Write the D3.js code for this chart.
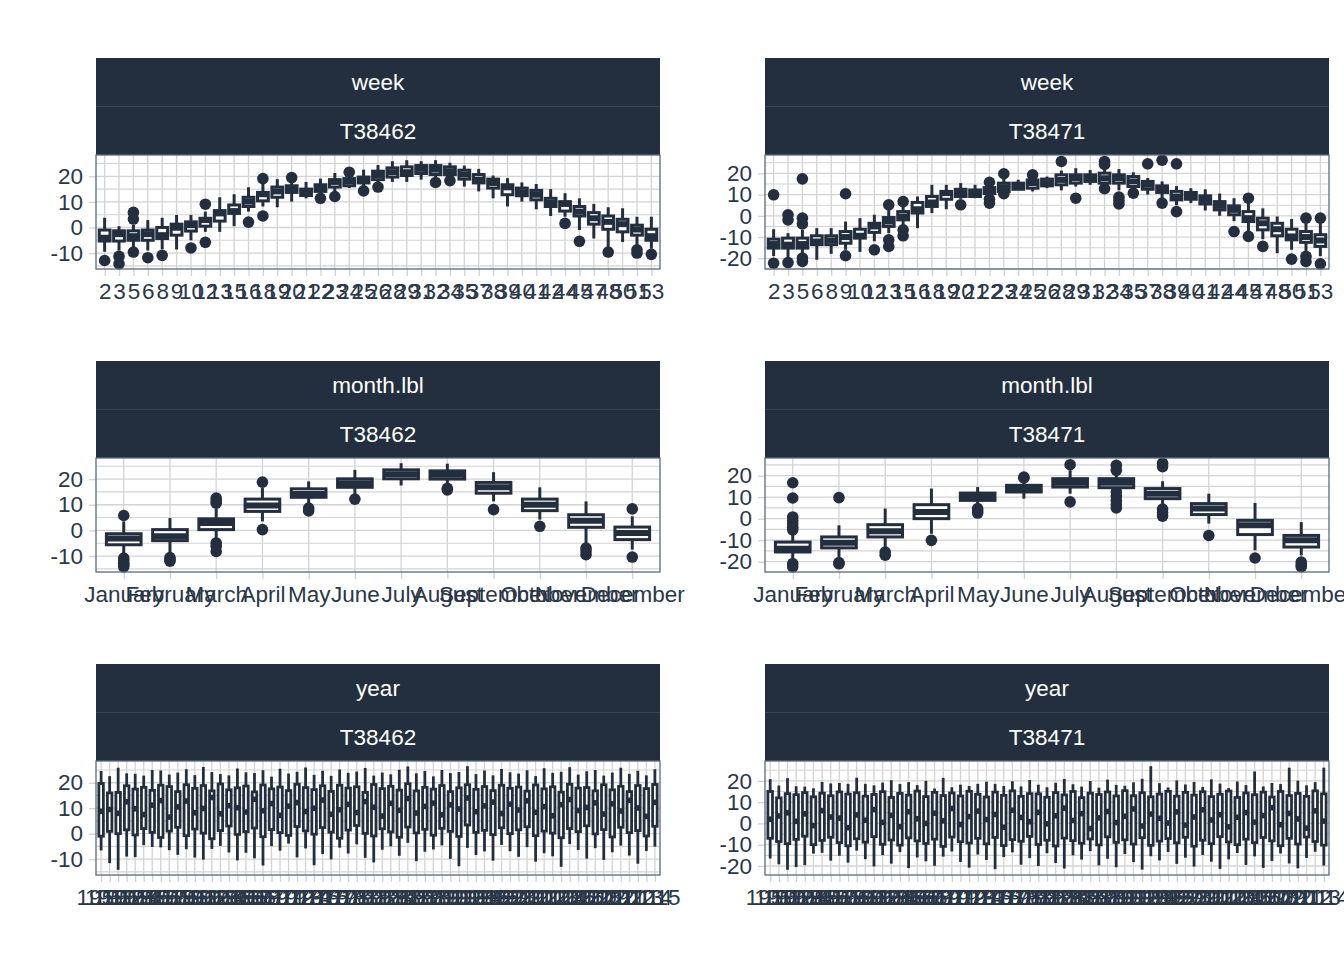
<!DOCTYPE html>
<html><head><meta charset="utf-8">
<script src="https://cdn.jsdelivr.net/npm/d3@7"></script>
<style>body{margin:0;background:#fff} svg{display:block} text{font-family:"Liberation Sans",Arial,Helvetica,sans-serif}</style>
</head><body><svg id="c" width="1344" height="960"></svg>
<script>
// ---------- categories ----------
const weekLabels = ["2","3","5","6","8","9","10","12","13","15","16","18","19","20","21","22","23","24","25","26","28","29","31","32","34","35","37","38","39","40","41","42","44","45","47","48","50","51","53"];
const monthLabels = ["January","February","March","April","May","June","July","August","September","October","November","December"];
const yearLabels62 = d3.range(1950, 2016).map(String);
const yearLabels71 = d3.range(1950, 2015).map(String);
const stations = ["T38462", "T38471"];

// ---------- week, T38462 ----------
const wk62_lo  = [-9.5,-9,-7.6,-9,-8.5,-8.6,-5,-1.7,-1.7,0.5,6.2,8.2,7.9,10.1,11.4,12.8,13.5,15.4,15.8,17,17.8,17.8,18.7,19.5,19.5,16,14.1,11.4,8.2,10.1,7.1,4.5,4.2,-1,-4.3,-8,-5.7,-7,-8.3];
const wk62_q1  = [-5.3,-5.3,-5,-5,-4.3,-3,-1.4,0.5,2.5,5.5,8.2,10.4,11.8,13.7,12.5,14.1,15.8,16.3,17.4,18.7,19.7,20.3,21.1,20.7,20.7,18.9,17.4,15.4,12.8,12.4,10.8,8.2,6.4,4.5,1.3,-0.7,-1.7,-3,-5];
const wk62_med = [-4,-2.6,-3.4,-2.6,-3,-0.1,0.9,2.9,5.5,6.4,10.1,13,14.1,15.1,13.7,15.1,17.8,18,18.4,20.5,21.6,21.6,22.9,22.6,22,20.7,18.7,17.4,15.7,13.8,12.8,9.7,9.2,6.2,3.6,2.2,1.3,-0.8,-3.4];
const wk62_q3  = [-1,-1.3,-1.3,-1,0,1.3,2.2,3.6,6.6,8.8,11.8,13.7,15.8,16.3,15,16.7,18.7,19.1,19.7,22,23.3,23.7,24.2,24.2,23.7,22.4,20.7,18.9,16.7,15.4,14.5,11.4,10.1,8.2,5.8,4.5,3.2,0.9,-0.7];
const wk62_hi  = [3.8,0.5,1,2.9,3.8,4.9,4.9,6.2,11.8,13,15.7,17.4,18.9,17.4,17.8,19.1,21.3,20.7,22.6,24.4,25.9,26.3,25.9,26.3,25.3,24.2,22.9,20.3,19.3,17.6,17,15,13.4,11.4,9.2,7.9,7.5,4.2,4.2];
const wk62_out = [[-12.9],[-11.3,-14.2],[5.9,3.3,-9.6],[-11.8],[-10.9],[],[-8],[9.1,-5.8],[],[],[2.1],[19.1,4.5],[],[19.5],[],[11.4],[12.1],[21.6],[14.3],[15.8],[],[],[],[17.6],[18.3],[],[],[],[],[],[],[],[1.6],[-5.4],[],[-9.6],[],[-8.7,-10],[-10.5]];

// ---------- week, T38471 ----------
const wk71_lo  = [-19,-19.5,-17.6,-20.7,-17.9,-16,-17,-12,-8.2,-5,-5.8,1.3,3.1,8,8.3,9,11,12.5,11.5,13,12,13.8,14.6,14.2,12,12,10,8,5,6,2.5,0,-2.5,-7.4,-11,-17.6,-16,-16.5,-19];
const wk71_q1  = [-15.2,-15.2,-15.2,-13.6,-13.6,-12.9,-10.5,-7.8,-5,-1.9,1.3,4.4,7.8,9.1,9.1,10.5,11.5,12.5,13,14.1,14.6,15.4,16.2,15.4,15.4,13.8,12.5,11,7.5,7.8,5.6,2.8,0.5,-2.7,-6.6,-9.4,-11.3,-12.5,-14.4];
const wk71_med = [-13.3,-13.6,-13.3,-12.1,-11.6,-10,-9.4,-5,-2.7,-0.3,3.1,6.3,10.7,11,11,11.5,13.5,14.1,15.4,15.4,16.9,17.7,17.7,17.7,17.7,16.2,14.6,12.5,9.1,9.4,7.5,4.7,2.8,-1.1,-3.5,-6.3,-9.7,-10,-11.6];
const wk71_q3  = [-11,-10.5,-10.5,-9.4,-9.4,-7.4,-6.3,-3.5,-0.8,2,6.3,9.1,11.5,12.5,12.2,13.3,15.4,15.4,16.9,17.3,19.3,19.3,19.3,20.1,19.3,18.5,16.2,14.1,11.5,11,9.4,6.7,4.7,2,-1.1,-3.5,-6.3,-7.4,-8.9];
const wk71_hi  = [-6.3,-8.2,-6.6,-5.8,-5.8,-2.7,-1.1,0.5,2.8,4.4,9.1,14.6,14.6,15.4,14.6,14.8,17.5,17,18,18.5,21.3,22.4,21.6,22.5,22,20.5,17.8,16.2,14,13,12.5,10.5,8.3,6,3.5,-0.3,-1.5,-3.5,-3.5];
const wk71_out = [[9.9,-22.3],[0.5,-1.9,-22],[17.4,-1.1,-3.8,-19.9,-21.5],[],[],[10.4,-18.8],[],[-16],[5.2,-11.3,-14.4],[6.7,-6.6,-9.4],[],[],[],[5.2],[],[15.8,7.8,6],[19.8,10.4],[],[19.3],[],[25.6],[8.3],[],[25.6,24.2,12.8],[8.8,7.2,5.6],[10.7],[24.5],[26.2,6],[24.5,2],[],[],[],[-7.4],[8.3,-9.7],[-14.4],[],[-20.4],[-1.1,-19.1,-21.5],[-1.1,-22.6]];

// ---------- month, T38462 ----------
const mo62_lo  = [-9.5,-8.8,-3.6,3.5,10,14.2,17.5,18.4,11.3,4.2,-4.9,-7.5];
const mo62_q1  = [-5.6,-4,0.3,7.4,12.9,16.8,20.1,20,14.5,7.7,1.2,-3.6];
const mo62_med = [-3.2,-2.3,2.9,9.7,14.2,18.4,21.9,21.7,16.8,10,3.8,-1];
const mo62_q3  = [-1.3,0.3,4.5,12.2,16.2,20.1,23.6,23.2,18.7,12.2,6.1,1.3];
const mo62_hi  = [3.5,4.8,8.5,16.5,19.1,23.6,26.2,26,22.7,16.8,11.3,5.5];
const mo62_out = [[5.8,-10.8,-11.8,-12.8,-13.5,-14.2],[-10.6,-11.4,-12],[12.6,11.5,10.6,-4.9,-6.2,-8.2],[18.8,0.3],[8.7,7.6],[12.2],[],[15.8,16.4],[8.1],[1.6],[-6.9,-8,-9.5],[8.4,-10.4]];

// ---------- month, T38471 ----------
const mo71_lo  = [-18.6,-17.8,-14,-7,6.5,9.3,11.6,14,6.5,-2.3,-14.7,-17.1];
const mo71_q1  = [-15.5,-13.6,-8.5,0,8.5,12.4,14.7,14.4,9.3,1.9,-7.4,-13.2];
const mo71_med = [-14,-11.2,-5.9,3.1,10.1,14,16.7,16.7,11.6,4.7,-3.1,-10.1];
const mo71_q3  = [-10.9,-8.5,-2.8,6.5,11.9,15.5,18.6,18.6,14,7,-0.8,-7.8];
const mo71_hi  = [-6.5,-3.1,4.7,14,14.7,17.5,22.5,21,17.4,11.6,7.3,-1.6];
const mo71_out = [[16.7,9.6,0.8,-1,-2.5,-4,-5.2,-20.9,-22.4],[9.8,-20.4,-21],[-15.5,-17],[-10.1],[4.7,3.6,2.6],[18.9,19.3],[25.1,7.8],[24.8,22.5,12.5,10.5,8.5,6.5,5],[25.8,24.2,4.5,2.8,1.2],[-7.8],[-18.3],[-20.2,-21.5,-22.4]];

// ---------- year, T38462 (1950-2015) ----------
const yr62_hi = [24.6,22.6,25.9,23.7,23.5,22.8,25.0,24.8,23.2,24.0,25.3,23.0,26.2,24.2,23.4,22.9,25.6,24.1,23.8,24.9,22.4,25.5,23.6,24.3,26.0,
 23.1,24.7,22.7,25.2,23.9,24.4,25.8,22.8,24.0,23.3,25.1,26.4,23.7,24.6,22.5,25.0,23.8,24.2,26.5,23.4,24.8,22.9,25.4,24.1,23.6,
 24.9,22.6,25.7,23.9,24.3,26.1,23.2,24.5,25.0,22.8,24.0,25.9,23.5,24.7,22.9,25.3];
const yr62_q3 = [19.7,16.0,16.2,18.8,17.5,18.2,17.0,19.0,18.5,16.5,19.2,17.8,18.9,16.8,19.5,17.2,18.0,18.7,16.4,19.1,17.6,18.3,16.9,19.4,18.1,
 17.3,18.8,16.6,19.0,17.9,18.4,16.2,19.3,17.7,18.6,17.1,19.6,16.8,18.2,17.5,18.9,16.5,18.0,19.2,17.4,18.5,16.9,19.0,17.8,18.3,
 16.7,19.1,17.6,18.4,16.3,19.4,17.9,18.1,16.8,19.2,17.2,18.6,16.5,18.9,17.7,19.3];
const yr62_med = [8.8,9.5,8.0,12.5,9.8,7.5,11.2,13.0,6.5,10.5,12.8,8.2,9.9,14.2,7.8,11.0,10.2,8.5,13.5,9.0,11.8,7.2,10.8,12.2,8.7,
 10.0,13.2,7.6,9.4,11.5,8.3,12.6,10.4,6.9,11.9,9.2,13.8,8.1,10.7,12.0,7.4,11.3,9.7,14.0,8.6,10.9,12.4,7.9,11.6,9.3,
 12.9,8.4,10.6,7.0,11.4,13.4,9.1,10.3,12.1,7.7,11.7,8.9,13.1,10.1,6.8,12.3];
const yr62_q1 = [-1.0,0.9,0.0,1.5,-0.5,2.0,0.5,-1.5,1.0,2.5,-0.8,1.8,0.2,-2.0,1.2,3.0,-0.3,0.8,2.2,-1.2,1.6,0.4,-0.7,2.8,1.1,
 -0.2,2.4,0.6,-1.8,1.4,3.2,0.1,-0.9,1.9,0.7,-1.4,2.6,0.3,1.7,-0.6,2.1,0.9,-1.1,3.4,0.5,1.3,-0.4,2.3,0.0,1.5,
 2.7,-0.8,1.0,0.2,-1.6,2.0,0.8,3.1,-0.1,1.6,-1.3,2.5,0.4,1.2,-0.9,2.9];
const yr62_lo = [-6.6,-11.6,-14.2,-9.0,-9.2,-4.5,-5.2,-5.4,-6.5,-8.3,-6.1,-9.4,-10.2,-6.0,-4.8,-7.4,-10.5,-7.5,-9.7,-12.5,-4.9,-6.7,-3.9,-9.3,-5.8,
 -12.4,-8.0,-10.1,-5.5,-7.8,-4.2,-9.5,-11.3,-6.3,-5.0,-8.7,-3.6,-10.8,-7.1,-6.2,-4.6,-9.9,-12.8,-5.6,-8.4,-7.0,-10.6,-4.4,-6.9,-9.1,
 -5.3,-11.0,-7.7,-8.9,-13.0,-4.1,-6.4,-9.8,-5.7,-10.3,-7.3,-4.7,-8.6,-11.8,-6.8,-5.1];

// ---------- year, T38471 (1950-2014) ----------
const yr71_hi = [20.8,17.8,21.3,17.5,17.3,16.5,19.5,18.8,19.0,18.6,21.5,18.6,17.9,19.2,20.3,18.5,19.4,18.0,20.0,16.4,21.4,17.0,18.2,17.6,18.6,
 19.6,18.6,17.6,19.8,17.4,20.4,18.2,17.0,19.1,20.9,18.4,17.3,19.9,16.8,20.6,18.1,17.7,19.3,21.0,26.9,18.9,16.9,20.2,18.3,19.5,
 17.1,20.7,18.7,16.6,19.7,18.0,24.4,17.4,19.0,18.5,26.2,20.1,17.9,19.4,26.2];
const yr71_q3 = [15.0,12.0,14.0,13.5,14.5,12.5,14.2,13.0,14.8,13.8,14.4,12.8,13.6,14.9,12.2,14.1,13.3,15.2,12.6,14.6,13.1,14.3,12.9,15.1,13.7,
 12.4,14.7,13.2,15.3,12.7,14.0,13.9,12.3,14.5,13.4,15.0,12.1,14.2,13.6,14.8,12.9,15.4,13.0,14.4,12.5,13.8,15.1,12.8,14.6,13.3,
 14.9,12.6,13.7,15.2,12.2,14.3,13.5,14.7,12.4,15.0,13.1,14.1,12.7,15.3,13.9];
const yr71_med = [2.0,3.5,5.0,1.0,4.5,-1.0,6.0,3.0,2.5,-2.0,4.0,1.5,6.5,0.5,3.8,-1.5,5.5,2.2,0.0,4.8,1.2,7.0,-0.5,3.2,5.8,
 1.8,4.2,-1.8,6.2,2.8,0.8,5.2,-0.2,3.6,7.2,1.4,4.6,-2.4,2.6,5.6,0.4,3.4,6.8,-1.2,4.4,2.4,0.2,5.4,-0.8,3.0,
 6.4,1.6,4.1,-1.6,2.9,5.1,0.6,3.7,7.4,-0.6,4.7,2.1,-2.2,5.9,1.1];
const yr71_q1 = [-7.0,-8.5,-9.5,-7.5,-6.0,-10.0,-8.0,-6.5,-9.0,-10.5,-7.2,-8.8,-6.2,-9.8,-7.8,-10.2,-6.8,-8.2,-9.4,-7.4,-10.8,-6.4,-8.6,-9.2,-7.0,
 -9.6,-6.6,-10.4,-7.6,-8.4,-6.1,-9.9,-7.9,-10.6,-6.9,-8.1,-9.3,-7.3,-10.1,-6.3,-8.9,-7.7,-9.7,-6.7,-10.3,-8.3,-7.1,-9.1,-6.5,-10.7,
 -7.9,-9.5,-6.2,-8.7,-10.0,-7.4,-9.0,-6.6,-8.2,-10.5,-7.0,-9.7,-6.4,-8.5,-10.2];
const yr71_lo = [-16.5,-19.2,-21.8,-20.5,-19.6,-14.2,-13.8,-17.5,-15.2,-18.4,-12.8,-16.8,-20.2,-14.9,-18.9,-13.5,-21.0,-16.0,-17.8,-19.9,-15.6,-13.2,-18.1,-20.8,-14.6,
 -17.2,-21.5,-15.8,-13.6,-19.4,-16.3,-20.0,-14.0,-18.6,-21.2,-15.0,-17.0,-13.0,-19.7,-16.6,-20.6,-14.4,-18.2,-21.7,-15.4,-17.4,-13.4,-19.0,-16.1,-20.3,
 -14.8,-18.0,-21.4,-16.9,-13.9,-19.5,-15.5,-20.9,-17.6,-14.1,-18.8,-21.1,-16.2,-13.3,-19.8];

// ---------- drawing ----------
const BLUE = "#232f3e", GRID = "#d3d3d3", TEXT = "#2a3748";
const svg = d3.select("#c");
const colsX = [[96, 660], [765, 1329]];
const rowsY = [58, 361, 664];          // strip tops
const STRIP_H = 48.5, PANEL_H = 114;

function mk(cats, lo, q1, med, q3, hi, out) {
  const n = Math.min(cats.length, lo.length, q1.length, med.length, q3.length, hi.length);
  return d3.range(n).map(i => ({cat: cats[i], lo: lo[i], q1: q1[i], med: med[i], q3: q3[i], hi: hi[i], out: out ? (out[i] || []) : []}));
}

const panels = [
  {row:0, col:0, feat:"week", st:stations[0], data: mk(weekLabels, wk62_lo, wk62_q1, wk62_med, wk62_q3, wk62_hi, wk62_out)},
  {row:0, col:1, feat:"week", st:stations[1], data: mk(weekLabels, wk71_lo, wk71_q1, wk71_med, wk71_q3, wk71_hi, wk71_out)},
  {row:1, col:0, feat:"month.lbl", st:stations[0], data: mk(monthLabels, mo62_lo, mo62_q1, mo62_med, mo62_q3, mo62_hi, mo62_out)},
  {row:1, col:1, feat:"month.lbl", st:stations[1], data: mk(monthLabels, mo71_lo, mo71_q1, mo71_med, mo71_q3, mo71_hi, mo71_out)},
  {row:2, col:0, feat:"year", st:stations[0], data: mk(yearLabels62, yr62_lo, yr62_q1, yr62_med, yr62_q3, yr62_hi, null)},
  {row:2, col:1, feat:"year", st:stations[1], data: mk(yearLabels71, yr71_lo, yr71_q1, yr71_med, yr71_q3, yr71_hi, null)}
];

panels.forEach(p => {
  const [x0, x1] = colsX[p.col];
  const sTop = rowsY[p.row];
  const y0 = sTop + 2 * STRIP_H, y1 = y0 + PANEL_H;
  const g = svg.append("g");

  // strips
  [p.feat, p.st].forEach((lab, k) => {
    g.append("rect").attr("x", x0).attr("y", sTop + k * STRIP_H).attr("width", x1 - x0).attr("height", STRIP_H).attr("fill", BLUE);
    g.append("text").attr("x", (x0 + x1) / 2).attr("y", sTop + k * STRIP_H + STRIP_H / 2).attr("dy", "0.35em")
      .attr("text-anchor", "middle").attr("fill", "#ffffff").attr("font-size", 22.5).text(lab);
  });
  g.append("line").attr("x1", x0).attr("x2", x1).attr("y1", sTop + STRIP_H).attr("y2", sTop + STRIP_H)
    .attr("stroke", "#34445a").attr("stroke-width", 1);

  // scales
  const vals = [];
  p.data.forEach(d => { vals.push(d.lo, d.hi, ...d.out); });
  const mn = d3.min(vals), mx = d3.max(vals), r = mx - mn;
  const y = d3.scaleLinear().domain([mn - 0.05 * r, mx + 0.05 * r]).range([y1, y0]);
  const x = d3.scalePoint().domain(p.data.map(d => d.cat)).range([x0, x1]).padding(0.6);
  const step = x.step();
  const major = y.ticks(5);
  const tstep = major[1] - major[0];
  const minor = [];
  for (let v = major[0] - tstep / 2; v <= y.domain()[1]; v += tstep) if (v >= y.domain()[0]) minor.push(v);

  // grid
  g.selectAll(null).data(minor).enter().append("line")
    .attr("x1", x0).attr("x2", x1).attr("y1", d => y(d)).attr("y2", d => y(d))
    .attr("stroke", GRID).attr("stroke-width", 1.1);
  g.selectAll(null).data(major).enter().append("line")
    .attr("x1", x0).attr("x2", x1).attr("y1", d => y(d)).attr("y2", d => y(d))
    .attr("stroke", GRID).attr("stroke-width", 1.3);
  g.selectAll(null).data(p.data).enter().append("line")
    .attr("x1", d => x(d.cat)).attr("x2", d => x(d.cat)).attr("y1", y0).attr("y2", y1)
    .attr("stroke", GRID).attr("stroke-width", 1.3);

  // axes (ticks + labels)
  const yAxis = d3.axisLeft(y).tickValues(major).tickSize(7).tickPadding(6).tickFormat(d3.format("d"));
  const ya = g.append("g").attr("transform", `translate(${x0},0)`).call(yAxis);
  const xAxis = d3.axisBottom(x).tickSize(7).tickPadding(5);
  const xa = g.append("g").attr("transform", `translate(0,${y1})`).call(xAxis);
  [ya, xa].forEach(a => {
    a.select(".domain").remove();
    a.selectAll(".tick line").attr("stroke", GRID).attr("stroke-width", 1.3);
    a.selectAll(".tick text").attr("fill", TEXT).attr("font-size", 22.5)
      .attr("font-family", '"Liberation Sans", Arial, Helvetica, sans-serif');
  });
  xa.selectAll(".tick text").attr("dy", "0.78em");
  ya.selectAll(".tick text").text(d => d < 0 ? "-" + Math.abs(d) : String(d));

  // boxes
  const dense = step < 10;
  const LW = dense ? 2.8 : 3;
  const bw = dense ? step * 0.53 : step * 0.75;
  const bx = g.append("g");
  p.data.forEach(d => {
    const cx = x(d.cat);
    d.out.forEach(o => bx.append("circle").attr("cx", cx).attr("cy", y(o)).attr("r", 5.8).attr("fill", BLUE));
    bx.append("line").attr("x1", cx).attr("x2", cx).attr("y1", y(d.hi)).attr("y2", y(d.q3)).attr("stroke", BLUE).attr("stroke-width", LW);
    bx.append("line").attr("x1", cx).attr("x2", cx).attr("y1", y(d.q1)).attr("y2", y(d.lo)).attr("stroke", BLUE).attr("stroke-width", LW);
    bx.append("rect").attr("x", cx - bw / 2).attr("width", bw).attr("y", y(d.q3)).attr("height", Math.max(0, y(d.q1) - y(d.q3)))
      .attr("fill", "#ffffff").attr("stroke", BLUE).attr("stroke-width", LW);
    bx.append("line").attr("x1", cx - bw / 2).attr("x2", cx + bw / 2).attr("y1", y(d.med)).attr("y2", y(d.med))
      .attr("stroke", BLUE).attr("stroke-width", LW * 2);
  });

  // panel border
  g.append("rect").attr("x", x0).attr("y", y0).attr("width", x1 - x0).attr("height", y1 - y0)
    .attr("fill", "none").attr("stroke", "#5b6a7a").attr("stroke-width", 1.3);
});
</script>
</body></html>
